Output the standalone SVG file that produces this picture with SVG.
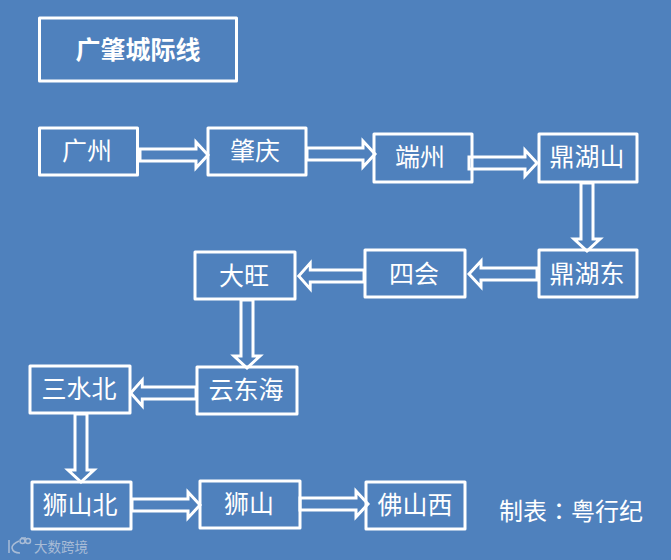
<svg xmlns="http://www.w3.org/2000/svg" width="671" height="560" viewBox="0 0 671 560">
<style>
text{font-family:"Noto Sans CJK SC","Liberation Sans",sans-serif;fill:#fff;text-anchor:middle}
.b{fill:none;stroke:#fff;stroke-width:3;stroke-linejoin:round}
.t{font-size:25px}
.a{fill:none;stroke:#fff;stroke-width:3;stroke-linejoin:miter}
.w{fill:none;stroke:#a9bcd6;stroke-width:1.5}
</style>
<defs>
<path id="arr" class="a" d="M0,-6H56V-13L68,0L56,13V6H0Z"/>
</defs>
<rect width="671" height="560" fill="#4f81bd"/>
<g id="connectors">
<use href="#arr" transform="translate(140,155)"/>
<use href="#arr" transform="translate(307,154)"/>
<use href="#arr" transform="translate(469,163)"/>
<use href="#arr" transform="translate(587,183) rotate(90)"/>
<use href="#arr" transform="translate(537,274) scale(-1,1)"/>
<use href="#arr" transform="translate(364,276) scale(-.96,1)"/>
<use href="#arr" transform="translate(247,300) rotate(90)"/>
<use href="#arr" transform="translate(196,393) scale(-.96,1)"/>
<use href="#arr" transform="translate(81,414) rotate(90)"/>
<use href="#arr" transform="translate(132,505)"/>
<use href="#arr" transform="translate(300,504)"/>
</g>
<g id="title"><rect class="b" x="39.500" y="18" width="197" height="63"/><text x="138" y="59" font-size="25" font-weight="700">广肇城际线</text></g>
<g id="n1"><rect class="b" x="39.500" y="128" width="98" height="47"/><text class="t" x="87" y="160">广州</text></g>
<g id="n2"><rect class="b" x="208" y="128" width="98" height="47"/><text class="t" x="255" y="160">肇庆</text></g>
<g id="n3"><rect class="b" x="374" y="134" width="98" height="48"/><text class="t" x="420" y="166">端州</text></g>
<g id="n4"><rect class="b" x="539" y="134" width="98" height="48"/><text class="t" x="587" y="166">鼎湖山</text></g>
<g id="n5"><rect class="b" x="539" y="250" width="98" height="47"/><text class="t" x="587" y="283">鼎湖东</text></g>
<g id="n6"><rect class="b" x="365" y="250" width="100" height="47"/><text class="t" x="414" y="283">四会</text></g>
<g id="n7"><rect class="b" x="195" y="252" width="100" height="47"/><text class="t" x="244" y="285">大旺</text></g>
<g id="n8"><rect class="b" x="197" y="367" width="100" height="47"/><text class="t" x="246" y="399">云东海</text></g>
<g id="n9"><rect class="b" x="30" y="366" width="100" height="47"/><text class="t" x="79" y="398">三水北</text></g>
<g id="n10"><rect class="b" x="32" y="482" width="99" height="47"/><text class="t" x="80" y="514">狮山北</text></g>
<g id="n11"><rect class="b" x="200" y="481" width="100" height="47"/><text class="t" x="249" y="513">狮山</text></g>
<g id="n12"><rect class="b" x="366" y="482" width="99" height="47"/><text class="t" x="415" y="514">佛山西</text></g>
<text x="571" y="520" font-size="24">制表<tspan font-family="Noto Sans CJK TC">：</tspan>粤行纪</text>
<g id="watermark">
<path class="w" d="M9,540V553M19,541Q12,544 12,548Q13,553 20,553"/>
<circle class="w" cx="22.500" cy="541" r="2.500"/><path class="w" d="M21,538H26"/><circle class="w" cx="28" cy="541" r="2.500"/>
<text x="61" y="552" font-size="13.500" style="fill:#a9bcd6">大数跨境</text>
</g>
</svg>
